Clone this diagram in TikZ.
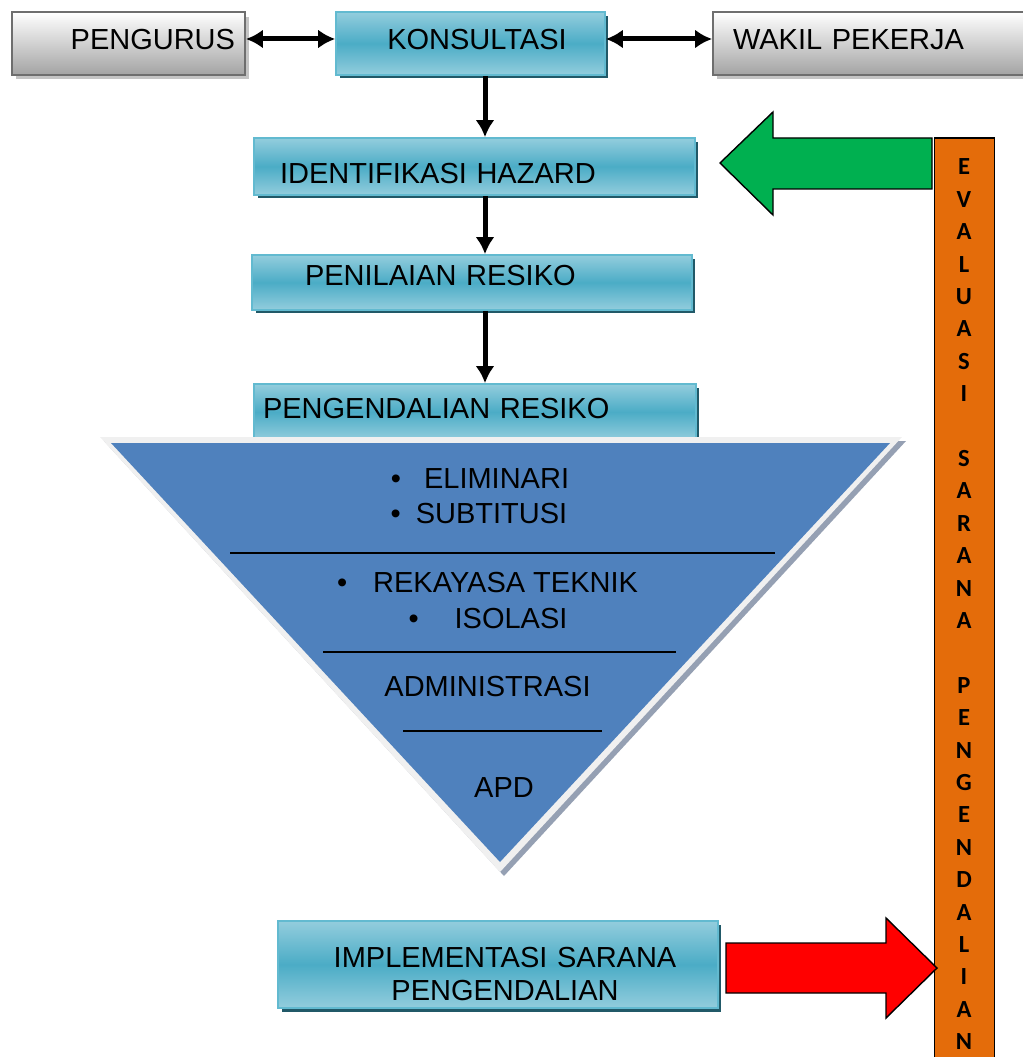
\documentclass[tikz,border=0pt]{standalone}
\usepackage{fontspec}
\setmainfont{Liberation Sans}
\newfontfamily\barfont{Carlito}
\usetikzlibrary{arrows.meta}
\usetikzlibrary{shadows}
\definecolor{tealmid}{HTML}{4BACC6}
\definecolor{teallight}{HTML}{93CDDD}
\definecolor{tealedge}{HTML}{62BAD0}
\definecolor{tealshadow}{HTML}{215968}
\definecolor{greyedge}{HTML}{6E6E6E}
\definecolor{greybottom}{HTML}{A3A3A3}
\definecolor{greyshadow}{HTML}{C4C4C4}
\definecolor{pyramidblue}{HTML}{4F81BD}
\definecolor{pyramidrim}{HTML}{F0F0F0}
\definecolor{pyramidshadow}{HTML}{95A0B3}
\definecolor{evalorange}{HTML}{E46C0A}
\definecolor{arrowgreen}{HTML}{00B050}
\definecolor{arrowred}{HTML}{FF0000}
\def\boxshift{0.07cm}
\tikzset{
    tealbox/.style = {
        draw=tealedge, line width=1pt, top color=teallight, bottom color=teallight, middle color=tealmid,
        inner ysep=0pt,
        drop shadow={shadow xshift=\boxshift, shadow yshift=-\boxshift, fill=tealshadow, opacity=1}
    },
    greybox/.style = {
        draw=greyedge, line width=1.1pt, top color=white, bottom color=greybottom,
        minimum height=1.26cm, inner ysep=0pt, text height=0.3cm, text depth=0.04cm,
        drop shadow={shadow xshift=0.08cm, shadow yshift=-0.09cm, fill=greyshadow, opacity=1}
    },
    blockarrow/.style = {draw=black, line width=0.8pt, line join=miter},
    divider/.style = {draw=black, line width=0.8pt},
    evalbar/.style = {draw=black, line width=0.8pt, fill=evalorange, minimum width=1.2cm, minimum height=18.74cm, inner sep=0pt},
    barletter/.style = {font=\barfont\bfseries\fontsize{14}{16}\selectfont},
}

\begin{document}
\begin{tikzpicture}[x=0.02cm, y=-0.02cm, every node/.style={font=\fontsize{16.5}{18.8}\selectfont}]
    \useasboundingbox (0,0) rectangle (1022,1057);
    % Top row
    \node[greybox, text width=4.26cm, inner xsep=0.2cm, align=right] (pengurus) at (128.5,43.5) {PENGURUS};
    \node[tealbox, minimum height=1.26cm, text width=4.98cm, inner xsep=0.2cm, align=center, text height=0.3cm, text depth=0.04cm] (konsultasi) at (470.5,43.5) {\hspace*{0.26cm}KONSULTASI};
    \node[greybox, text width=5.44cm, inner xsep=0.4cm, align=left] (wakil) at (869,43.5) {WAKIL PEKERJA};

    % Process column
    \node[tealbox, minimum height=1.14cm, text width=7.78cm, inner xsep=0.52cm, align=left, text height=0.7cm, text depth=0pt] (ident) at (474.5,166.5) {IDENTIFIKASI HAZARD};
    \node[tealbox, minimum height=1.1cm, text width=6.68cm, inner xsep=1.06cm, align=left, text height=0.3cm, text depth=0.16cm] (penilaian) at (472,282.5) {PENILAIAN RESIKO};
    \node[tealbox, minimum height=1.12cm, text width=8.48cm, inner xsep=0.18cm, align=left, text height=0.3cm, text depth=0.04cm] (pengendalian) at (475,412) {PENGENDALIAN RESIKO};
    \node[tealbox, minimum height=1.74cm, text width=8.4cm, inner xsep=0.2cm, align=center, text height=0.78cm, text depth=0.66cm] (implementasi) at (498,964.5) {\hspace*{0.28cm}IMPLEMENTASI SARANA\\\hspace*{0.28cm}PENGENDALIAN};

    % Control pyramid
    \coordinate (pyrL) at (100,437);
    \coordinate (pyrR) at (902,437);
    \coordinate (pyrT) at (500,872);
    \fill[pyramidrim, drop shadow={shadow xshift=0.08cm, shadow yshift=-0.08cm, fill=pyramidshadow, opacity=1}] (pyrL) -- (pyrR) -- (pyrT) -- cycle;
    \fill[pyramidblue] (111,443) -- (890,443) -- (500,862) -- cycle;
    \draw[divider] (230,553) -- (775,553);
    \draw[divider] (323,652) -- (676,652);
    \draw[divider] (403,731) -- (602,731);
    \node (eliminari) at (480,479) {\textbullet\hspace{0.46cm}ELIMINARI};
    \node (subtitusi) at (479,513.5) {\textbullet\hspace{0.3cm}SUBTITUSI};
    \node (rekayasa) at (487.5,583) {\textbullet\hspace{0.52cm}REKAYASA TEKNIK};
    \node (isolasi) at (488,618.5) {\textbullet\hspace{0.72cm}ISOLASI};
    \node (administrasi) at (487.5,687) {ADMINISTRASI};
    \node (apd) at (504,788) {APD};

    % Evaluation bar
    \node[evalbar] (evaluasi) at (964.5,606.5) {};
    \foreach \ch [count=\i from 0] in {E,V,A,L,U,A,S,I,{},S,A,R,A,N,A,{},P,E,N,G,E,N,D,A,L,I,A,N}{
        \node[barletter] (letter\i) at (964,167+32.4*\i) {\ch};
    }

    % Block arrows
    \draw[blockarrow, fill=arrowgreen] (932,138) -- (773,138) -- (773,112) -- (720,163) -- (773,215) -- (773,189) -- (932,189) -- cycle;
    \draw[blockarrow, fill=arrowred] (726,943) -- (886,943) -- (886,918) -- (937,968) -- (886,1018) -- (886,993) -- (726,993) -- cycle;

    % Connections
    \coordinate (spine) at (485,0);
    \begin{scope}[line width=0.1cm, >={Latex[width=0.38cm,length=0.34cm]}]
        \draw[<->] ([yshift=0.09cm] pengurus.east) -- ([yshift=0.09cm] konsultasi.west);
        \draw[<->] ([yshift=0.09cm] konsultasi.east) -- ([yshift=0.09cm] wakil.west);
        \draw[->] (konsultasi.south -| spine) -- (ident.north -| spine);
        \draw[->] (ident.south -| spine) -- (penilaian.north -| spine);
        \draw[->] (penilaian.south -| spine) -- (pengendalian.north -| spine);
    \end{scope}
\end{tikzpicture}
\end{document}
